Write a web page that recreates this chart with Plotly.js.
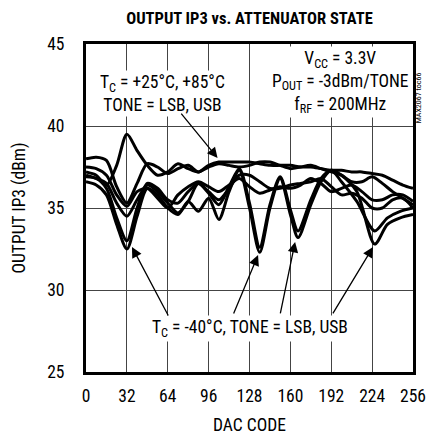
<!DOCTYPE html>
<html><head><meta charset="utf-8">
<script src="https://cdn.plot.ly/plotly-3.0.1.min.js"></script>
<style>html,body{margin:0;padding:0;background:#fff}</style>
</head><body><div id="chart" style="width:437px;height:435px"></div>
<script>
// DAC codes and output IP3 (dBm)
const codesH = [0,8,16,24,32,40,48,56,64,72,80,88,96,104,112,120,128,136,144,152,160,168,176,184,192,200,208,216,224,232,240,248,256];
const ip3_25_LSB = [37.2,37.0,36.4,37.6,39.5,38.5,37.6,37.0,37.2,37.7,37.4,37.2,37.6,37.8,37.8,37.8,37.8,37.7,37.6,37.6,37.6,37.5,37.5,37.4,37.3,37.3,37.2,37.2,37.1,37.0,36.7,36.4,36.2];
const ip3_25_USB = [38.0,38.1,37.9,36.3,35.3,36.5,37.7,37.5,37.1,37.4,37.6,37.2,37.5,37.7,37.6,37.5,37.6,37.8,37.8,37.6,37.4,37.5,37.6,37.4,37.2,37.0,36.6,36.6,36.9,36.5,36.0,35.6,35.2];
const ip3_85_LSB = [37.5,37.4,37.0,35.8,35.1,36.0,36.2,35.6,35.0,35.8,36.3,36.6,36.3,36.0,36.4,36.8,36.3,35.9,36.1,36.3,36.2,36.4,36.8,36.5,36.0,36.2,36.4,36.0,35.5,35.5,35.8,35.8,35.4];
const ip3_85_USB = [37.0,36.8,36.5,35.3,34.5,35.5,36.4,36.0,35.3,34.7,35.4,36.5,36.0,35.5,36.2,37.0,37.0,36.6,36.2,36.2,36.4,36.5,36.6,36.8,36.3,35.8,35.9,35.6,35.0,35.0,35.5,35.6,35.0];
const codesL = [0,8,16,24,32,40,48,56,64,72,80,88,96,104,112,120,128,136,144,152,160,166,176,184,192,200,212,226,236,246,256];
const ip3_m40_LSB = [36.6,36.4,35.8,34.0,32.5,34.5,36.2,35.8,35.0,34.6,35.4,34.8,35.6,34.3,36.0,37.3,35.0,32.3,35.0,36.8,34.6,33.2,35.2,36.6,37.3,37.0,36.0,32.8,34.0,34.4,34.6];
const ip3_m40_USB = [36.9,36.8,36.2,34.4,33.0,35.0,36.5,36.2,35.5,35.3,36.0,36.5,35.9,35.2,36.3,37.4,35.3,32.6,35.2,36.9,34.9,33.6,35.5,36.8,37.3,36.6,35.4,33.6,34.4,34.8,35.0];
const xTicks = [0,32,64,96,128,160,192,224,256];
const yTicks = [25,30,35,40,45];

const FONT = '"Roboto Condensed","Liberation Sans Narrow",Roboto,sans-serif';
const FS = 17.5;
const series = [
  [codesH, ip3_25_LSB],[codesH, ip3_25_USB],[codesH, ip3_85_LSB],[codesH, ip3_85_USB],
  [codesL, ip3_m40_LSB],[codesL, ip3_m40_USB]
];
const traces = series.map(s => ({
  x: s[0], y: s[1], type: 'scatter', mode: 'lines',
  line: {color: '#000', width: 3, shape: 'spline', smoothing: 0.8},
  hoverinfo: 'skip', showlegend: false
}));

function arrow(hx, hy, tx, ty) {
  return {x: hx, y: hy, ax: tx, ay: ty, xref: 'x', yref: 'y', axref: 'x', ayref: 'y',
    text: '', showarrow: true, arrowhead: 2, arrowsize: 1.6, arrowwidth: 1.3, arrowcolor: '#000', standoff: 0};
}

const layout = {
  width: 437, height: 435,
  margin: {l: 86, r: 24, t: 44, b: 63},
  paper_bgcolor: '#fff', plot_bgcolor: '#fff',
  font: {family: FONT, size: FS, color: '#000'},
  title: {text: '<b>OUTPUT IP3 vs. ATTENUATOR STATE</b>', x: 0.5, xref: 'paper', y: 0.958, yref: 'container', yanchor: 'middle',
    font: {family: FONT, size: 16.5, color: '#000'}},
  xaxis: {range: [0, 256], tickvals: xTicks, ticktext: xTicks.map(String), showgrid: true, gridcolor: '#444', gridwidth: 1,
    showline: true, mirror: true, linecolor: '#000', linewidth: 3, zeroline: false, ticks: '', ticklabelstandoff: 6,
    tickfont: {family: FONT, size: FS},
    title: {text: 'DAC CODE', standoff: 14, font: {family: FONT, size: FS}}},
  yaxis: {range: [25, 45], tickvals: yTicks, ticktext: yTicks.map(String), showgrid: true, gridcolor: '#444', gridwidth: 1,
    showline: true, mirror: true, linecolor: '#000', linewidth: 3, zeroline: false, ticks: '', ticklabelstandoff: 15,
    tickfont: {family: FONT, size: FS},
    title: {text: 'OUTPUT IP3 (dBm)', standoff: 18, font: {family: FONT, size: FS}}},
  annotations: [
    {x: 59.5, y: 42.0, xref: 'x', yref: 'y', text: 'T<sub>C</sub> = +25°C, +85°C<br>TONE = LSB, USB', showarrow: false,
      bgcolor: '#fff', font: {family: FONT, size: FS}},
    {x: 199, y: 42.7, xref: 'x', yref: 'y', text: 'V<sub>CC</sub> = 3.3V<br>P<sub>OUT</sub> = -3dBm/TONE<br>f<sub>RF</sub> = 200MHz', showarrow: false,
      bgcolor: '#fff', font: {family: FONT, size: FS}},
    {x: 128.4, y: 27.68, xref: 'x', yref: 'y', text: 'T<sub>C</sub> = -40°C, TONE = LSB, USB', showarrow: false,
      bgcolor: '#fff', font: {family: FONT, size: FS}},
    {x: 1.037, y: 0.92, xref: 'paper', yref: 'paper', text: 'MAX2067 toc66', showarrow: false, textangle: -90,
      font: {family: FONT, size: 8}},
    arrow(103, 38.05, 73.6, 40.85),
    arrow(36, 32.62, 65, 28.35),
    arrow(134.7, 32.13, 115.1, 28.48),
    arrow(163.7, 32.93, 151.9, 28.48),
    arrow(224.7, 32.62, 192.6, 28.48)
  ]
};
Plotly.newPlot('chart', traces, layout, {displayModeBar: false, staticPlot: true});
</script></body></html>
